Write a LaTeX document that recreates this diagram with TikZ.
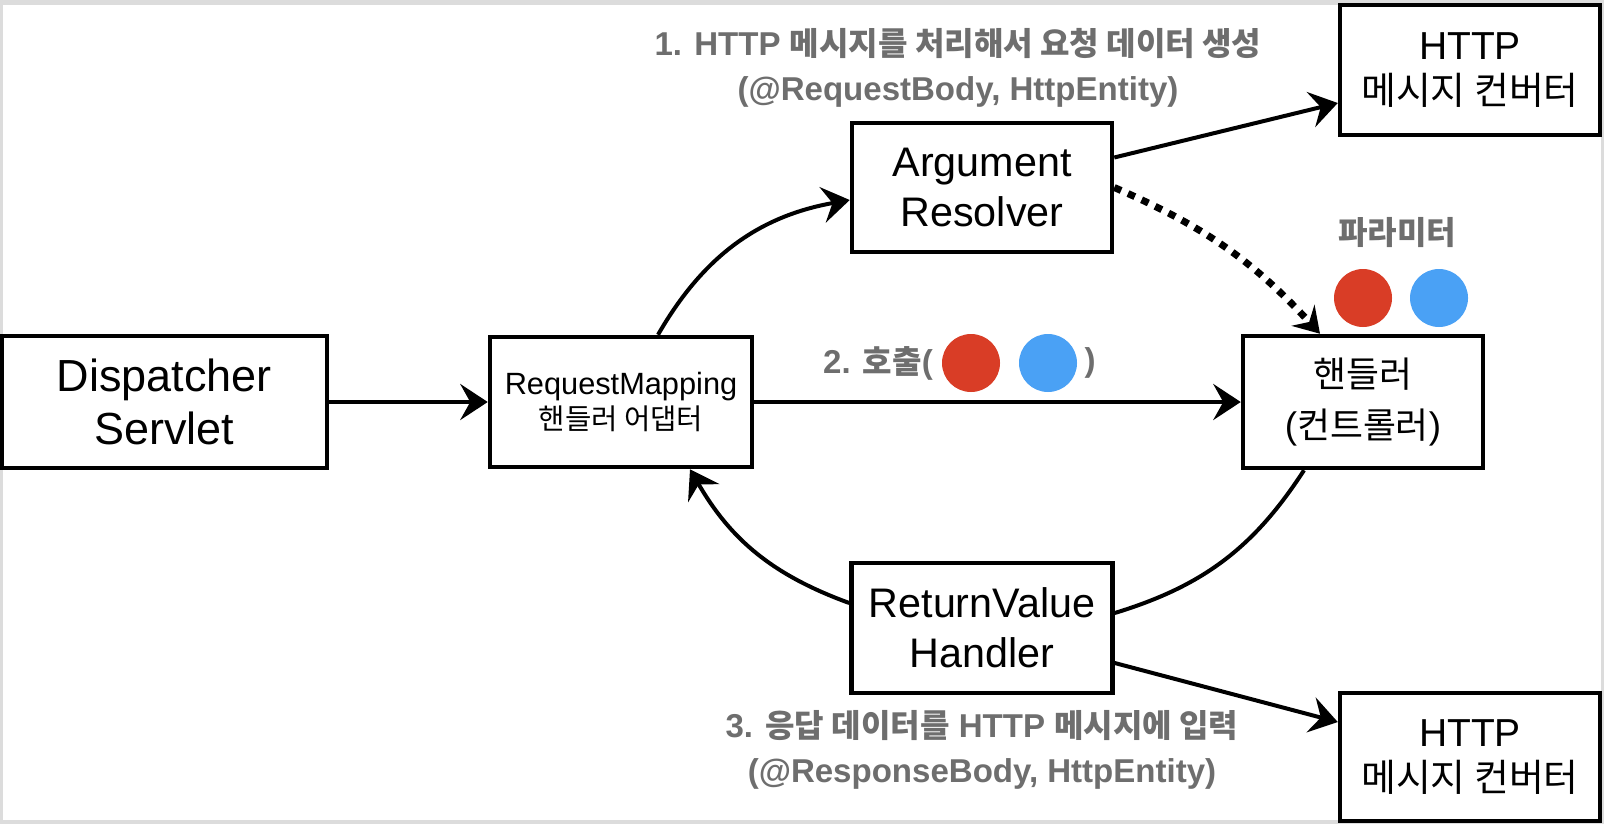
\documentclass[tikz,border=0pt]{standalone}
\usepackage{fontspec}
\setmainfont{Liberation Sans}
\newfontfamily\kr{Noto Sans CJK KR}[Scale=0.97]
\usepackage{xcolor}
\usepackage{tikz}
\usetikzlibrary{arrows.meta,positioning}
\definecolor{labelGray}{RGB}{110,110,110}
\definecolor{frameGray}{RGB}{220,220,220}
\definecolor{paramRed}{RGB}{217,61,38}
\definecolor{paramBlue}{RGB}{74,161,245}
\tikzstyle{arrow} = [draw, -{Stealth[length=0.55cm,width=0.72cm,inset=0.2cm]}, line width=0.08cm]
\tikzstyle{line} = [draw, line width=0.08cm]
\tikzstyle{dotArrow} = [draw, -{Stealth[length=0.5cm,width=0.62cm,inset=0.18cm]}, line width=0.14cm,
    dash pattern=on 0.15cm off 0.15cm]
\tikzstyle{mainBlock} = [draw, rectangle, fill=white, line width=0.09cm, inner sep=0pt,
    align=center, font=\fontsize{23.5}{28.5}\selectfont]
\tikzstyle{adapterBlock} = [mainBlock, font=\fontsize{17.5}{20}\selectfont]
\tikzstyle{convBlock} = [mainBlock, minimum width=5.2cm, minimum height=2.6cm,
    font=\fontsize{22.2}{26}\selectfont]
\tikzstyle{labelText} = [text=labelGray, align=center, inner sep=0pt,
    font=\bfseries\fontsize{18.8}{25.6}\selectfont]
\tikzstyle{param} = [circle, minimum size=1.16cm, inner sep=0pt]

\begin{document}
\begin{tikzpicture}[node distance = 2cm, auto]
      % Frame
      \useasboundingbox (0,0) rectangle (32.08,-16.48);
      \fill [frameGray] (0,0) rectangle (32.08,-16.48);
      \fill [white] (0.06,-0.1) rectangle (32.02,-16.4);

      % Place nodes
      \node [mainBlock, minimum width=6.5cm, minimum height=2.64cm,
        font=\fontsize{25.6}{30}\selectfont] (dispatcher) at (3.29,-8.04) {Dispatcher\\Servlet};
      \node [adapterBlock, minimum width=5.24cm, minimum height=2.6cm,
        right of=dispatcher, node distance=9.13cm] (adapter)
        {RequestMapping\\{\kr\fontsize{16.8}{20}\selectfont 핸들러 어댑터}};

      \node [mainBlock, minimum width=5.2cm, minimum height=2.58cm,
        right of=adapter, node distance=7.22cm, yshift=4.29cm] (resolver) {Argument\\Resolver};
      \node [mainBlock, minimum width=4.8cm, minimum height=2.64cm, font=\fontsize{21}{28.5}\selectfont,
        right of=adapter, node distance=14.84cm] (handler) {{\kr 핸들러}\\({\kr 컨트롤러})};
      \node [mainBlock, minimum width=5.22cm, minimum height=2.6cm,
        right of=adapter, node distance=7.22cm, yshift=-4.52cm] (returnHandler) {ReturnValue\\Handler};

      \node [convBlock, right of=resolver, node distance=9.76cm, yshift=2.35cm] (convTop) {HTTP\\{\kr 메시지 컨버터}};
      \node [convBlock, minimum height=2.56cm, right of=returnHandler, node distance=9.76cm,
        yshift=-2.58cm] (convBottom) {HTTP\\{\kr 메시지 컨버터}};

      % Labels
      \node [labelText, above of=resolver, node distance=2.4cm, xshift=-0.48cm] (requestLabel)
        {1. HTTP {\kr 메시지를 처리해서 요청 데이터 생성}\\(@RequestBody, HttpEntity)};
      \node [labelText, below of=returnHandler, node distance=2.44cm] (responseLabel)
        {3. {\kr 응답 데이터를} HTTP {\kr 메시지에 입력}\\(@ResponseBody, HttpEntity)};

      \node [param, fill=paramRed, right of=adapter, node distance=7cm, yshift=0.78cm] (callRed) {};
      \node [param, fill=paramBlue, right of=callRed, node distance=1.54cm] (callBlue) {};
      \node [labelText, left of=callRed, node distance=1.86cm] (callLabel) {2. {\kr 호출}(};
      \node [labelText, right of=callBlue, node distance=0.84cm] (callClose) {)};

      \node [param, fill=paramRed, above of=handler, node distance=2.08cm] (paramRedDot) {};
      \node [param, fill=paramBlue, right of=paramRedDot, node distance=1.52cm] (paramBlueDot) {};
      \node [labelText, above of=paramRedDot, node distance=1.3cm, xshift=0.68cm] (paramLabel) {\kr 파라미터};

      % Connectors
      \path [arrow] (dispatcher) -- (adapter);
      \path [arrow] ([xshift=0.74cm]adapter.north) to[bend left=25] ([yshift=-0.25cm]resolver.west);
      \path [arrow] ([yshift=0.6cm]resolver.east) -- ([yshift=-0.66cm]convTop.west);
      \path [dotArrow] (resolver.east) to[bend left=12] ([xshift=-0.86cm]handler.north);
      \path [arrow] (adapter) -- (handler);
      \path [line] ([xshift=-1.18cm]handler.south) to[bend left=20] ([yshift=0.3cm]returnHandler.east);
      \path [arrow] ([yshift=0.5cm]returnHandler.west) to[bend left=20] ([xshift=1.38cm]adapter.south);
      \path [arrow] ([yshift=-0.7cm]returnHandler.east) -- ([yshift=0.7cm]convBottom.west);
      %\path [line] (adapter) -- (returnHandler);

\end{tikzpicture}
\end{document}
